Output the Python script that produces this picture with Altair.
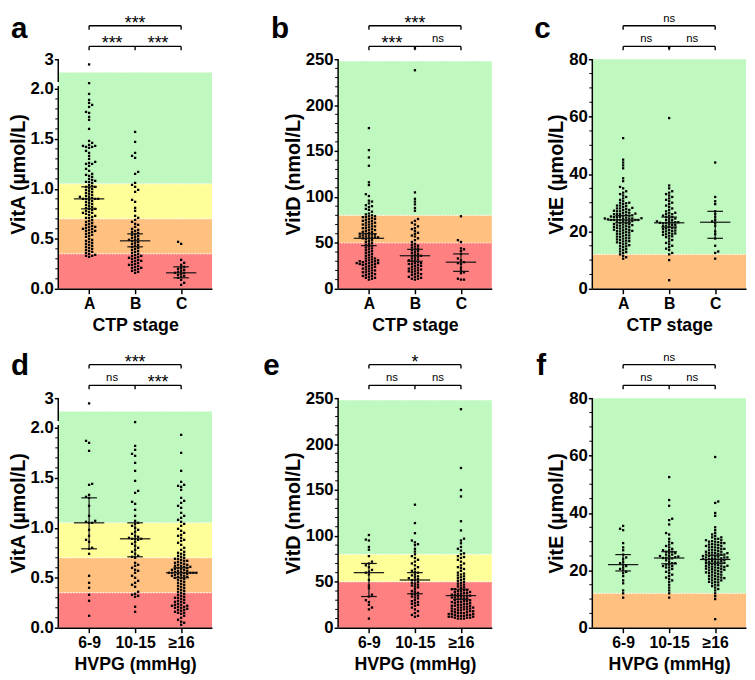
import json
import altair as alt
import numpy as np
import pandas as pd

alt.data_transformers.disable_max_rows()

# ------------------------------------------------------------------ data
ctp_groups = ["A", "B", "C"]
hvpg_groups = ["6-9", "10-15", "≥16"]

# ---- VitA (µmol/L) by CTP stage
vitA_ctp_A = [2.80, 2.08, 1.95, 1.89, 1.86, 1.84, 1.82, 1.77, 1.76, 1.72, 1.69, 1.60, 1.48, 1.46, 1.44, 1.43,
              1.43, 1.42, 1.42, 1.41, 1.38, 1.36, 1.33, 1.30, 1.27, 1.26, 1.25, 1.25, 1.23, 1.20, 1.18, 1.15,
              1.14, 1.13, 1.12, 1.10, 1.09, 1.08, 1.07, 1.07, 1.06, 1.04, 1.03, 1.02, 1.02, 1.01, 1.00, 0.99,
              0.98, 0.97, 0.96, 0.95, 0.94, 0.93, 0.92, 0.92, 0.91, 0.90, 0.90, 0.90, 0.90, 0.89, 0.88, 0.87,
              0.86, 0.85, 0.84, 0.83, 0.82, 0.81, 0.80, 0.80, 0.79, 0.78, 0.77, 0.76, 0.76, 0.75, 0.74, 0.73,
              0.72, 0.71, 0.71, 0.69, 0.68, 0.67, 0.66, 0.65, 0.64, 0.63, 0.62, 0.62, 0.61, 0.60, 0.60, 0.59,
              0.58, 0.58, 0.57, 0.56, 0.55, 0.54, 0.53, 0.52, 0.50, 0.49, 0.48, 0.47, 0.46, 0.45, 0.44, 0.43,
              0.42, 0.41, 0.40, 0.39, 0.38, 0.37, 0.36, 0.35, 0.34, 0.33, 0.33, 0.32]
vitA_ctp_B = [1.57, 1.47, 1.36, 1.33, 1.31, 1.17, 1.15, 1.06, 1.04, 1.02, 0.99, 0.97, 0.89, 0.87, 0.81, 0.78,
              0.73, 0.71, 0.69, 0.67, 0.65, 0.64, 0.62, 0.60, 0.59, 0.58, 0.57, 0.56, 0.55, 0.54, 0.53, 0.52,
              0.51, 0.50, 0.49, 0.49, 0.48, 0.47, 0.46, 0.45, 0.44, 0.43, 0.42, 0.41, 0.40, 0.39, 0.38, 0.37,
              0.36, 0.35, 0.34, 0.33, 0.32, 0.31, 0.30, 0.29, 0.28, 0.27, 0.26, 0.25, 0.24, 0.23, 0.22, 0.21,
              0.20, 0.19, 0.18, 0.17, 0.16, 0.33, 0.31, 0.28, 0.24, 0.21]
vitA_ctp_C = [0.47, 0.45, 0.29, 0.26, 0.24, 0.22, 0.21, 0.20, 0.19, 0.18, 0.17, 0.16, 0.16, 0.15, 0.14, 0.13,
              0.12, 0.11, 0.09, 0.06, 0.04]
vitA_ctp_median = [0.90, 0.48, 0.16]
vitA_ctp_low = [0.80, 0.42, 0.11]
vitA_ctp_high = [1.02, 0.55, 0.22]
vitA_ctp_sig = ["***", "***", "***"]          # A-B, B-C, A-C

# ---- VitD (nmol/L) by CTP stage
vitD_ctp_A = [175, 151, 143, 134, 116, 113, 103, 101, 96, 95, 93, 91, 90, 89, 87, 86, 84, 82, 81, 80,
              79, 79, 78, 78, 77, 76, 76, 75, 74, 74, 73, 72, 72, 71, 70, 70, 69, 68, 68, 67, 66, 66, 65,
              64, 64, 63, 62, 62, 61, 60, 60, 59, 59, 58, 58, 57, 57, 56, 56, 56, 55, 55, 54, 53, 52, 51,
              50, 49, 48, 47, 46, 45, 44, 43, 42, 41, 40, 39, 38, 37, 36, 35, 34, 33, 33, 32, 31, 31, 30,
              30, 30, 29, 29, 28, 28, 28, 27, 27, 27, 26, 26, 25, 24, 24, 23, 22, 22, 21, 20, 20, 19, 18,
              18, 17, 16, 16, 15, 14, 14, 13, 12, 12, 11, 10]
vitD_ctp_B = [262, 238, 105, 98, 95, 92, 88, 85, 76, 74, 72, 70, 68, 66, 65, 63, 61, 60, 58, 57, 55, 53,
              51, 49, 48, 47, 46, 45, 44, 43, 42, 41, 40, 39, 38, 37, 36, 36, 35, 34, 33, 32, 31, 31, 30,
              29, 28, 28, 27, 27, 26, 25, 25, 24, 23, 22, 22, 21, 21, 20, 19, 19, 18, 17, 16, 16, 15, 14,
              13, 13, 12, 11, 11, 10]
vitD_ctp_C = [79, 53, 51, 44, 43, 41, 38, 33, 31, 29, 28, 27, 23, 20, 18, 17, 11, 10, 10]
vitD_ctp_median = [55, 36, 29]
vitD_ctp_low = [47, 30, 19]
vitD_ctp_high = [60, 43, 38]
vitD_ctp_sig = ["***", "ns", "***"]

# ---- VitE (µmol/L) by CTP stage
vitE_ctp_A = [52.5, 45, 44, 43, 42, 38.5, 37.5, 35.5, 35, 34, 33.5, 33, 32.5, 32, 31.5, 31, 30.5, 30, 30,
              29.5, 29, 29, 28.5, 28, 28, 27.5, 27.5, 27, 27, 26.5, 26.5, 26, 26, 26, 25.5, 25.5, 25, 25,
              25, 24.5, 24.5, 24.5, 24, 24, 24, 24, 29.8, 28.8, 27.8, 26.8, 25.8, 25.2, 24.8, 24.2, 28.2,
              27.2, 26.2, 25.6, 24.6, 24.4, 24.1, 24.0, 23.8, 23.6, 23.4, 23.2, 23, 22.8, 22.6, 22.4, 22.2,
              22, 21.8, 21.6, 21.4, 21.2, 21, 20.8, 20.6, 20.4, 20.2, 20, 19.8, 19.5, 19.2, 19, 18.8, 18.5,
              18.2, 18, 17.8, 17.5, 17.2, 17, 16.8, 16.5, 16.2, 16, 15.5, 15.2, 15, 14.5, 14, 13.5, 13,
              12.5, 12, 11.5, 11, 10.5, 23.5, 22.5, 21.5, 20.5, 19.6, 18.6, 17.6, 16.6, 15.8, 14.8, 13.8,
              12.8, 22.1, 20.1]
vitE_ctp_B = [84, 59.5, 36, 35, 34, 33.5, 33, 32.5, 32, 31.5, 31, 30.5, 30, 29.5, 29, 28.5, 28, 27.5, 27,
              26.5, 26.5, 26, 26, 25.5, 25.5, 25, 25, 24.5, 24.5, 24, 24, 23.5, 23.5, 23.2, 23.2, 23.1, 23,
              23, 22.8, 22.5, 22.3, 22.2, 22, 21.8, 21.5, 21.3, 21.2, 21, 20.8, 20.5, 20.3, 20.2, 20, 19.8,
              19.5, 19.3, 19.2, 19, 18.8, 18.5, 18.3, 18, 17.5, 17, 16.5, 16, 15.5, 15, 14.5, 14, 13.5,
              12.5, 12, 10, 3]
vitE_ctp_C = [44, 32, 30.5, 29.5, 27, 26, 25, 24, 23.5, 23, 22, 20, 19, 17.5, 15, 13, 12.5, 10.5]
vitE_ctp_median = [24, 23, 23.2]
vitE_ctp_low = [23, 21.5, 17.6]
vitE_ctp_high = [25.5, 25, 27]
vitE_ctp_sig = ["ns", "ns", "ns"]

# ---- VitA by HVPG
vitA_hvpg_1 = [2.80, 1.87, 1.85, 1.77, 1.44, 1.43, 1.33, 1.31, 1.30, 1.22, 1.12, 1.07, 1.06, 1.05, 1.05,
               0.98, 0.92, 0.88, 0.86, 0.80, 0.79, 0.74, 0.52, 0.45, 0.40, 0.33, 0.27, 0.12]
vitA_hvpg_2 = [2.08, 1.82, 1.78, 1.74, 1.72, 1.65, 1.57, 1.47, 1.37, 1.35, 1.26, 1.24, 1.18, 1.12, 1.07,
               1.05, 1.04, 1.02, 1.00, 0.98, 0.96, 0.94, 0.92, 0.91, 0.90, 0.89, 0.89, 0.89, 0.88, 0.86,
               0.84, 0.82, 0.80, 0.78, 0.76, 0.74, 0.72, 0.71, 0.70, 0.65, 0.63, 0.62, 0.60, 0.58, 0.57,
               0.55, 0.52, 0.50, 0.47, 0.45, 0.43, 0.41, 0.36, 0.34, 0.33, 0.32, 0.31, 0.21, 0.16]
vitA_hvpg_3 = [1.93, 1.75, 1.57, 1.46, 1.43, 1.42, 1.41, 1.38, 1.30, 1.27, 1.25, 1.22, 1.20, 1.15, 1.12,
               1.10, 1.08, 1.06, 1.04, 1.02, 0.99, 0.97, 0.95, 0.93, 0.92, 0.90, 0.88, 0.87, 0.85, 0.83,
               0.80, 0.78, 0.76, 0.75, 0.74, 0.73, 0.72, 0.71, 0.70, 0.69, 0.69, 0.68, 0.67, 0.67, 0.66,
               0.65, 0.65, 0.64, 0.63, 0.63, 0.62, 0.62, 0.61, 0.61, 0.60, 0.60, 0.59, 0.59, 0.58, 0.58,
               0.57, 0.57, 0.56, 0.56, 0.55, 0.55, 0.55, 0.55, 0.55, 0.55, 0.54, 0.54, 0.53, 0.53, 0.52,
               0.52, 0.51, 0.51, 0.50, 0.50, 0.49, 0.48, 0.47, 0.46, 0.45, 0.44, 0.43, 0.42, 0.41, 0.40,
               0.39, 0.38, 0.37, 0.36, 0.35, 0.34, 0.33, 0.32, 0.31, 0.30, 0.29, 0.28, 0.27, 0.26, 0.25,
               0.24, 0.23, 0.23, 0.22, 0.22, 0.21, 0.21, 0.20, 0.20, 0.19, 0.18, 0.17, 0.16, 0.15, 0.14,
               0.12, 0.10, 0.08, 0.06, 0.05, 0.03, 0.30, 0.26, 0.18, 0.15]
vitA_hvpg_median = [1.05, 0.89, 0.55]
vitA_hvpg_low = [0.79, 0.71, 0.50]
vitA_hvpg_high = [1.30, 1.05, 0.60]
vitA_hvpg_sig = ["ns", "***", "***"]

# ---- VitD by HVPG
vitD_hvpg_1 = [101, 96, 95, 88, 85, 78, 72, 70, 68, 66, 63, 61, 60, 58, 52, 46, 43, 36, 34, 30, 28, 25,
               22, 20, 10]
vitD_hvpg_2 = [134, 114, 103, 95, 93, 91, 90, 86, 83, 80, 78, 76, 74, 72, 70, 68, 66, 64, 62, 61, 60, 58,
               57, 56, 55, 54, 53, 52, 52, 50, 49, 48, 47, 46, 45, 44, 42, 40, 39, 38, 37, 36, 35, 34, 33,
               32, 30, 29, 28, 27, 26, 25, 24, 22, 20, 18, 16, 14, 13, 12]
vitD_hvpg_3 = [238, 174, 150, 143, 116, 106, 97, 95, 92, 88, 86, 84, 81, 80, 78, 77, 76, 74, 72, 70, 68,
               66, 65, 64, 62, 60, 59, 58, 57, 56, 55, 54, 53, 52, 51, 50, 49, 48, 47, 46, 45, 44, 43, 42,
               42, 41, 41, 40, 40, 39, 39, 38, 38, 37, 37, 36, 36, 35, 35, 35, 34, 34, 33, 33, 32, 32, 31,
               31, 30, 30, 29, 29, 28, 28, 27, 27, 26, 26, 25, 25, 24, 24, 23, 23, 22, 22, 21, 21, 20, 20,
               19, 19, 18, 18, 17, 17, 16, 16, 15, 15, 15, 14, 14, 14, 13, 13, 13, 12, 12, 12, 11, 11, 11,
               10, 10, 10, 28, 24, 20, 16, 22, 18]
vitD_hvpg_median = [60, 52, 35]
vitD_hvpg_low = [34, 37, 31]
vitD_hvpg_high = [70, 60, 42]
vitD_hvpg_sig = ["ns", "ns", "*"]

# ---- VitE by HVPG
vitE_hvpg_1 = [35.5, 34.5, 34, 29.5, 28, 27, 25.5, 24.5, 24, 23, 22.5, 22, 21.5, 21, 20.5, 20, 19.5, 19,
               18, 16.5, 15.5, 13, 12, 10.5]
vitE_hvpg_2 = [52.5, 44.5, 42.5, 38, 37.5, 36, 33, 32.5, 31, 30, 29.5, 29, 28.5, 28, 27.5, 27, 27, 26.5,
               26.5, 26, 26, 25.5, 25.5, 25, 25, 24.8, 24.6, 24.4, 24.3, 24.2, 24, 23.5, 23, 22.5, 22.5, 22,
               22, 21.5, 21.5, 21, 21, 20.5, 20, 19.5, 19, 18.5, 18, 17.5, 17, 16.5, 16, 15, 14, 13, 12, 10.5]
vitE_hvpg_3 = [59.5, 44, 43.5, 40, 39, 35, 34, 33, 32.5, 32, 31.5, 31.5, 31, 31, 30.5, 30.5, 30, 30, 29.5,
               29.5, 29, 29, 28.5, 28.5, 28, 28, 27.5, 27.5, 27, 27, 26.5, 26.5, 26, 26, 26, 25.5, 25.5,
               25.5, 25, 25, 25, 24.5, 24.5, 24.5, 24.2, 24.2, 24, 24, 24, 23.8, 29.8, 28.8, 27.8, 26.8,
               25.8, 24.8, 30.2, 29.2, 28.2, 27.2, 26.2, 25.2, 23.6, 23.4, 23.2, 23, 23, 22.8, 22.6, 22.4,
               22.2, 22, 22, 21.8, 21.6, 21.4, 21.2, 21, 21, 20.8, 20.6, 20.4, 20.2, 20, 20, 19.5, 19.5, 19,
               19, 18.5, 18.5, 18, 18, 17.5, 17.5, 17, 17, 16.5, 16.5, 16, 16, 15.5, 15, 14.5, 14, 13.5, 13,
               12, 11, 10, 3, 22.5, 21.5, 20.5, 19.8, 18.8, 17.8, 16.8, 15.8, 14.8, 23.3, 21.3, 19.3, 17.3]
vitE_hvpg_median = [22, 24.3, 23.8]
vitE_hvpg_low = [19.8, 22.3, 22.5]
vitE_hvpg_high = [25.5, 26.5, 25.3]
vitE_hvpg_sig = ["ns", "ns", "ns"]

# ---- reference bands
GREEN, YELLOW, ORANGE, RED = "#c0f9c0", "#ffff99", "#ffc080", "#ff8080"
vitA_band_edges = [0, 0.35, 0.70, 1.05, 2.5]
vitA_band_colors = [RED, ORANGE, YELLOW, GREEN]
vitD_band_edges = [0, 50, 80, 248]
vitD_ctp_band_colors = [RED, ORANGE, GREEN]
vitD_hvpg_band_colors = [RED, YELLOW, GREEN]
vitE_band_edges = [0, 12, 80]
vitE_band_colors = [ORANGE, GREEN]

# ---- axes
vitA_major = [0, 0.5, 1.0, 1.5, 2.0, 3]
vitA_minor = [0.1, 0.2, 0.3, 0.4, 0.6, 0.7, 0.8, 0.9, 1.1, 1.2, 1.3, 1.4, 1.6, 1.7, 1.8, 1.9]
vitD_major = [0, 50, 100, 150, 200, 250]
vitD_minor = [10, 20, 30, 40, 60, 70, 80, 90, 110, 120, 130, 140, 160, 170, 180, 190, 210, 220, 230, 240]
vitE_major = [0, 20, 40, 60, 80]
vitE_minor = [5, 10, 15, 25, 30, 35, 45, 50, 55, 65, 70, 75]

# ------------------------------------------------------------------ layout
FONT = "Liberation Sans"
W = 156
XDOM = [-0.67, 2.67]
PPU = W / (XDOM[1] - XDOM[0])
DX = 3.1       # px between swarm columns
DMIN = 2.45    # px min vertical gap in a column
UP, LOW = -34, -13


def swarm(vals, ypix):
    order = sorted(range(len(vals)), key=lambda i: vals[i])
    placed = {}
    cols = [0] * len(vals)
    flip = 1
    for i in order:
        y = ypix(vals[i])
        cand = [0]
        for j in range(1, 40):
            cand += [flip * j, -flip * j]
        for c in cand:
            if all(abs(y - yy) >= DMIN for yy in placed.get(c, [])):
                placed.setdefault(c, []).append(y)
                cols[i] = c
                if c != 0:
                    flip = -flip
                break
    return cols


def one():
    return pd.DataFrame({"k": [0]})


def panel(groups, series, med, lo, hi, sig, edges, colors, ydom, yrange, major, label_expr,
          minor, segments, ytitle, xtitle, letter, lx, ly, ext_left, ext_top, ext_bottom, H):
    xs = alt.Scale(domain=XDOM, nice=False, zero=False)
    ys = alt.Scale(domain=ydom, range=yrange, nice=False, zero=False)

    def ypix(v):
        return float(np.interp(v, ydom, yrange))

    rows = []
    for g, vals in enumerate(series):
        cols = swarm(vals, ypix)
        for v, c in zip(vals, cols):
            rows.append({"x": g + c * DX / PPU, "v": v})
    pts = pd.DataFrame(rows)

    xaxis = alt.Axis(values=[0, 1, 2], labelExpr=json.dumps(groups, ensure_ascii=False) + "[datum.value]",
                     title=xtitle, grid=False, domainColor="black", domainWidth=1.5, tickColor="black",
                     tickWidth=1.5, tickSize=5, labelFont=FONT, labelFontSize=16, labelFontWeight="bold",
                     labelColor="black", labelPadding=2, titleFont=FONT, titleFontSize=18,
                     titleFontWeight="bold", titleColor="black", titlePadding=5, zindex=1,
                     labelOverlap=False)
    yaxis = alt.Axis(values=major, labelExpr=label_expr, title=ytitle, grid=False, domain=False,
                     tickColor="black", tickWidth=1.5, tickSize=4, labelFont=FONT, labelFontSize=17,
                     labelFontWeight="bold", labelColor="black", labelPadding=1, titleFont=FONT,
                     titleFontSize=20, titleFontWeight="bold", titleColor="black", titlePadding=2,
                     zindex=1, labelOverlap=False, labelFlush=False)

    def X(f):
        return alt.X(f, scale=xs, axis=xaxis)

    def Y(f):
        return alt.Y(f, scale=ys, axis=yaxis)

    bands = alt.Chart(pd.DataFrame({"y0": edges[:-1], "y1": edges[1:], "c": colors})).mark_rect().encode(
        x=alt.value(0), x2=alt.value(W),
        y=Y("y0:Q"), y2="y1:Q", color=alt.Color("c:N", scale=None))
    lines = alt.Chart(pd.DataFrame({"e": [e for e in edges[1:] if e < ydom[-1]]})).mark_rule(
        color="white", strokeDash=[1.5, 1.5], strokeWidth=1).encode(
        x=alt.value(0), x2=alt.value(W), y=Y("e:Q"))
    points = alt.Chart(pts).mark_square(size=5.5, color="black", opacity=1).encode(
        x=X("x:Q"), y=Y("v:Q"))

    summ = pd.DataFrame({"g": [0, 1, 2], "med": med, "lo": lo, "hi": hi})
    summ["xa"] = summ["g"] - 0.33
    summ["xb"] = summ["g"] + 0.33
    summ["ca"] = summ["g"] - 0.17
    summ["cb"] = summ["g"] + 0.17
    sbase = alt.Chart(summ).mark_rule(color="#111111", strokeWidth=1.2)
    median = sbase.encode(x=X("xa:Q"), x2="xb:Q", y=Y("med:Q"))
    whisk = sbase.encode(x=X("g:Q"), y=Y("lo:Q"), y2="hi:Q")
    cap_lo = sbase.encode(x=X("ca:Q"), x2="cb:Q", y=Y("lo:Q"))
    cap_hi = sbase.encode(x=X("ca:Q"), x2="cb:Q", y=Y("hi:Q"))

    seg = alt.Chart(pd.DataFrame({"s0": segments[0], "s1": segments[1]})).mark_rule(
        color="black", strokeWidth=1.5).encode(x=alt.value(0), y=Y("s0:Q"), y2="s1:Q")
    minor_t = alt.Chart(pd.DataFrame({"m": minor})).mark_rule(color="black", strokeWidth=1).encode(
        x=alt.value(-3), x2=alt.value(0), y=Y("m:Q"))

    br_up = alt.Chart(pd.DataFrame({"x1": [0], "x2": [2]})).mark_rule(color="black", strokeWidth=1.4).encode(
        x=X("x1:Q"), x2="x2:Q", y=alt.value(UP))
    br_low = alt.Chart(pd.DataFrame({"x1": [0], "x2": [2]})).mark_rule(color="black", strokeWidth=1.4).encode(
        x=X("x1:Q"), x2="x2:Q", y=alt.value(LOW))
    tk_up = alt.Chart(pd.DataFrame({"x": [0, 2]})).mark_rule(color="black", strokeWidth=1.4).encode(
        x=X("x:Q"), y=alt.value(UP), y2=alt.value(UP + 4))
    tk_low = alt.Chart(pd.DataFrame({"x": [0, 1, 2]})).mark_rule(color="black", strokeWidth=1.4).encode(
        x=X("x:Q"), y=alt.value(LOW), y2=alt.value(LOW + 4))

    labs = pd.DataFrame({"x": [0.5, 1.5, 1.0], "lab": sig, "lv": ["low", "low", "up"]})
    txt_layers = []
    for lv, base in (("up", UP), ("low", LOW)):
        sub = labs[labs["lv"] == lv]
        stars = sub[sub["lab"] != "ns"]
        ns = sub[sub["lab"] == "ns"]
        if len(stars):
            txt_layers.append(alt.Chart(stars).mark_text(font=FONT, fontSize=18, color="black",
                                                         baseline="alphabetic", align="center").encode(
                x=X("x:Q"), y=alt.value(base + 3), text="lab:N"))
        if len(ns):
            txt_layers.append(alt.Chart(ns).mark_text(font=FONT, fontSize=11.5, color="black",
                                                      baseline="alphabetic", align="center").encode(
                x=X("x:Q"), y=alt.value(base - 4), text="lab:N"))

    let = alt.Chart(one()).mark_text(text=letter, font=FONT, fontSize=30, fontWeight="bold", color="black",
                                     align="left", baseline="alphabetic").encode(
        x=alt.value(lx), y=alt.value(ly))
    ext = alt.Chart(one()).mark_rule(strokeOpacity=0, opacity=0).encode(
        x=alt.value(-ext_left), x2=alt.value(0), y=alt.value(-ext_top), y2=alt.value(H + ext_bottom))

    layers = [bands, lines, points, median, whisk, cap_lo, cap_hi, seg, minor_t,
              br_up, br_low, tk_up, tk_low] + txt_layers + [let, ext]
    return alt.layer(*layers).properties(width=W, height=H)


H1, H2 = 233, 233
fA = 25.5 / 237.0
labA = "datum.value == 3 ? '3' : format(datum.value, '.1f')"
labN = "format(datum.value, 'd')"

pa = panel(ctp_groups, [vitA_ctp_A, vitA_ctp_B, vitA_ctp_C], vitA_ctp_median, vitA_ctp_low, vitA_ctp_high,
           vitA_ctp_sig, vitA_band_edges, vitA_band_colors, [0, 2.05, 3], [H1, H1 * fA, 0], vitA_major, labA,
           vitA_minor, ([0, 2.12], [2.03, 3]), "VitA (µmol/L)", "CTP stage", "a", -48, -22, 40, 40, 52, H1)
pb = panel(ctp_groups, [vitD_ctp_A, vitD_ctp_B, vitD_ctp_C], vitD_ctp_median, vitD_ctp_low, vitD_ctp_high,
           vitD_ctp_sig, vitD_band_edges, vitD_ctp_band_colors, [0, 250], [H1, 0], vitD_major, labN,
           vitD_minor, ([0], [250]), "VitD (nmol/L)", "CTP stage", "b", -68, -22, 127, 40, 52, H1)
pc = panel(ctp_groups, [vitE_ctp_A, vitE_ctp_B, vitE_ctp_C], vitE_ctp_median, vitE_ctp_low, vitE_ctp_high,
           vitE_ctp_sig, vitE_band_edges, vitE_band_colors, [0, 80], [H1, 0], vitE_major, labN,
           vitE_minor, ([0], [80]), "VitE (µmol/L)", "CTP stage", "c", -59, -22, 101, 40, 52, H1)
pd_ = panel(hvpg_groups, [vitA_hvpg_1, vitA_hvpg_2, vitA_hvpg_3], vitA_hvpg_median, vitA_hvpg_low,
            vitA_hvpg_high, vitA_hvpg_sig, vitA_band_edges, vitA_band_colors, [0, 2.05, 3],
            [H2, H2 * fA, 0], vitA_major, labA, vitA_minor, ([0, 2.12], [2.03, 3]), "VitA (µmol/L)",
            "HVPG (mmHg)", "d", -48, -24, 40, 58, 0, H2)
pe = panel(hvpg_groups, [vitD_hvpg_1, vitD_hvpg_2, vitD_hvpg_3], vitD_hvpg_median, vitD_hvpg_low,
           vitD_hvpg_high, vitD_hvpg_sig, vitD_band_edges, vitD_hvpg_band_colors, [0, 250], [H2, 0],
           vitD_major, labN, vitD_minor, ([0], [250]), "VitD (nmol/L)", "HVPG (mmHg)", "e", -76, -24,
           127, 58, 0, H2)
pf = panel(hvpg_groups, [vitE_hvpg_1, vitE_hvpg_2, vitE_hvpg_3], vitE_hvpg_median, vitE_hvpg_low,
           vitE_hvpg_high, vitE_hvpg_sig, vitE_band_edges, vitE_band_colors, [0, 80], [H2, 0],
           vitE_major, labN, vitE_minor, ([0], [80]), "VitE (µmol/L)", "HVPG (mmHg)", "f", -57, -24,
           101, 58, 0, H2)

chart = alt.concat(pa, pb, pc, pd_, pe, pf, columns=3, spacing={"row": 1, "column": 0}, align="each").properties(
    padding=0, background="white"
).configure_view(stroke=None)

chart.save("out.html", embed_options={"renderer": "svg", "actions": False})
